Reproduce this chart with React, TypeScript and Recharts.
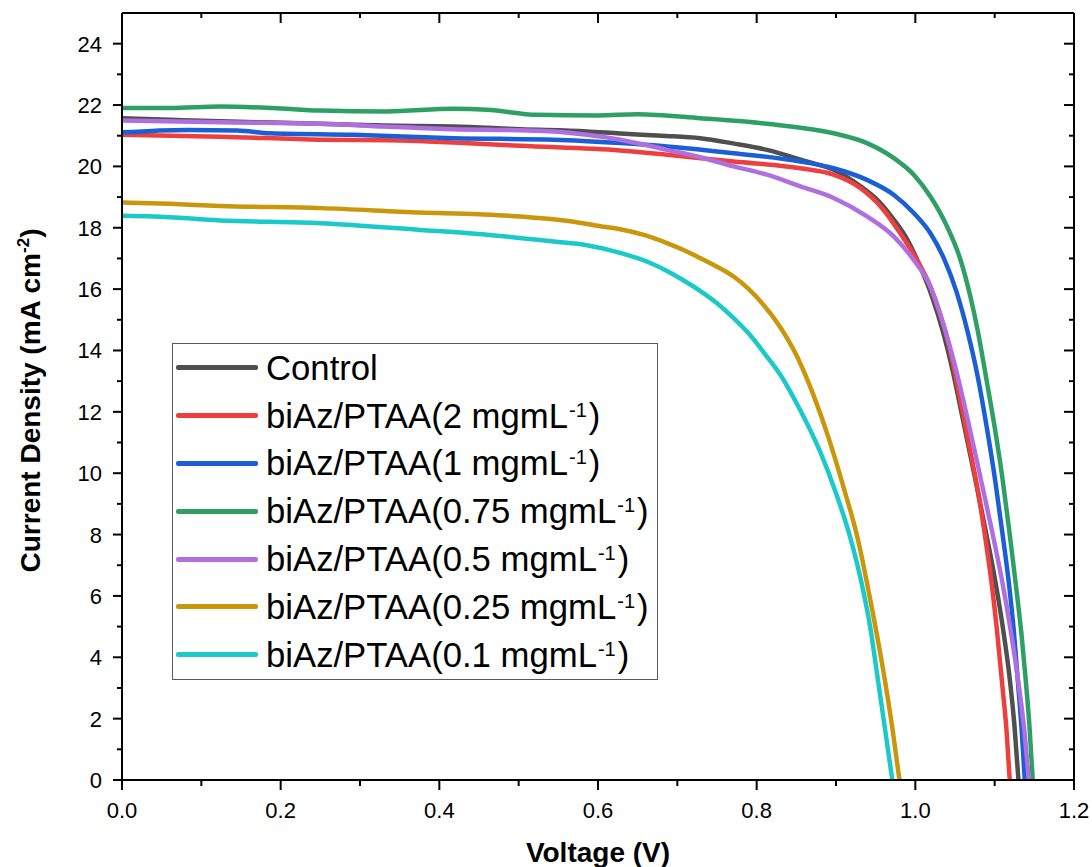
import React from 'react';
import { LineChart, Line, XAxis, YAxis, Legend, Label } from 'recharts';

const FONT = '"Liberation Sans", Arial, Helvetica, sans-serif';

// ---- tick values ----
const xMajorTicks = [0, 0.2, 0.4, 0.6, 0.8, 1.0, 1.2];
const xMinorTicks = [0.1, 0.3, 0.5, 0.7, 0.9, 1.1];
const yMajorTicks = [0, 2, 4, 6, 8, 10, 12, 14, 16, 18, 20, 22, 24];
const yMinorTicks = [1, 3, 5, 7, 9, 11, 13, 15, 17, 19, 21, 23];

// ---- series data: [voltage (V), current density (mA cm-2)] ----
const control: [number, number][] = [
  [0, 21.57], [0.06, 21.52], [0.124, 21.47], [0.25, 21.39], [0.33, 21.33], [0.418, 21.3],
  [0.502, 21.21], [0.586, 21.14], [0.628, 21.07], [0.68, 21.0], [0.729, 20.92], [0.77, 20.75],
  [0.813, 20.54], [0.863, 20.16], [0.897, 19.89], [0.931, 19.35], [0.952, 18.91], [0.973, 18.26],
  [0.99, 17.61], [1.006, 16.74], [1.021, 15.76], [1.035, 14.6], [1.047, 13.35], [1.06, 11.75],
  [1.076, 9.75], [1.09, 7.95], [1.101, 6.45], [1.111, 4.85], [1.119, 3.3], [1.125, 1.75], [1.13, 0],
];
const ptaa2: [number, number][] = [
  [0, 21.03], [0.124, 20.97], [0.25, 20.87], [0.334, 20.85], [0.418, 20.78], [0.502, 20.67],
  [0.628, 20.52], [0.687, 20.38], [0.771, 20.16], [0.855, 19.94], [0.897, 19.73], [0.931, 19.29],
  [0.96, 18.58], [0.981, 17.82], [1.002, 16.95], [1.019, 16.08], [1.031, 15.2], [1.042, 14.2],
  [1.052, 13.0], [1.062, 11.7], [1.07, 10.62], [1.078, 9.55], [1.087, 8.1], [1.096, 6.45],
  [1.103, 4.85], [1.11, 3.0], [1.115, 1.6], [1.119, 0],
];
const ptaa1: [number, number][] = [
  [0, 21.11], [0.082, 21.19], [0.145, 21.17], [0.187, 21.08], [0.292, 21.03], [0.418, 20.92],
  [0.544, 20.87], [0.628, 20.76], [0.687, 20.65], [0.771, 20.43], [0.855, 20.16], [0.897, 19.94],
  [0.939, 19.56], [0.973, 19.07], [0.998, 18.48], [1.019, 17.82], [1.036, 17.0], [1.052, 15.9],
  [1.066, 14.6], [1.079, 13.1], [1.09, 11.5], [1.101, 9.7], [1.11, 8.0], [1.118, 6.4],
  [1.124, 4.9], [1.129, 3.3], [1.134, 1.65], [1.138, 0],
];
const ptaa075: [number, number][] = [
  [0, 21.9], [0.06, 21.9], [0.124, 21.95], [0.19, 21.9], [0.25, 21.82], [0.334, 21.79],
  [0.418, 21.88], [0.46, 21.85], [0.523, 21.68], [0.6, 21.66], [0.65, 21.7], [0.729, 21.57],
  [0.813, 21.39], [0.897, 21.08], [0.939, 20.76], [0.973, 20.27], [0.998, 19.73], [1.019, 19.02],
  [1.04, 18.04], [1.057, 16.95], [1.069, 15.8], [1.079, 14.6], [1.09, 13.0], [1.1, 11.5],
  [1.11, 9.8], [1.119, 8.0], [1.127, 6.3], [1.134, 4.7], [1.139, 3.3], [1.144, 1.7], [1.148, 0],
];
const ptaa05: [number, number][] = [
  [0, 21.5], [0.124, 21.44], [0.25, 21.39], [0.33, 21.3], [0.418, 21.21], [0.5, 21.18],
  [0.544, 21.14], [0.586, 21.03], [0.628, 20.87], [0.687, 20.54], [0.729, 20.3], [0.771, 20.0],
  [0.813, 19.73], [0.855, 19.35], [0.897, 18.97], [0.939, 18.37], [0.973, 17.71], [0.998, 16.95],
  [1.019, 16.08], [1.036, 14.8], [1.05, 13.5], [1.066, 11.75], [1.083, 9.75], [1.098, 7.95],
  [1.11, 6.4], [1.12, 4.9], [1.129, 3.35], [1.137, 1.7], [1.143, 0],
];
const ptaa025: [number, number][] = [
  [0, 18.82], [0.06, 18.78], [0.124, 18.71], [0.25, 18.64], [0.376, 18.5], [0.45, 18.44],
  [0.502, 18.37], [0.565, 18.21], [0.603, 18.05], [0.628, 17.95], [0.66, 17.75], [0.687, 17.5],
  [0.71, 17.25], [0.729, 17.01], [0.75, 16.73], [0.771, 16.41], [0.79, 16.0], [0.805, 15.6],
  [0.83, 14.75], [0.85, 13.85], [0.87, 12.65], [0.89, 11.2], [0.91, 9.5], [0.928, 7.8],
  [0.943, 5.9], [0.956, 4.1], [0.962, 3.2], [0.971, 1.7], [0.98, 0],
];
const ptaa01: [number, number][] = [
  [0, 18.39], [0.04, 18.37], [0.124, 18.24], [0.25, 18.15], [0.376, 17.93], [0.46, 17.77],
  [0.544, 17.55], [0.586, 17.43], [0.628, 17.18], [0.666, 16.85], [0.69, 16.55], [0.708, 16.28],
  [0.73, 15.92], [0.75, 15.54], [0.77, 15.08], [0.79, 14.55], [0.81, 13.9], [0.83, 13.2],
  [0.854, 12.1], [0.88, 10.7], [0.9, 9.35], [0.918, 7.9], [0.932, 6.45], [0.943, 5.0],
  [0.951, 3.6], [0.961, 1.8], [0.971, 0],
];

const seriesNames = [
  'Control',
  'biAz/PTAA(2 mgmL-1)',
  'biAz/PTAA(1 mgmL-1)',
  'biAz/PTAA(0.75 mgmL-1)',
  'biAz/PTAA(0.5 mgmL-1)',
  'biAz/PTAA(0.25 mgmL-1)',
  'biAz/PTAA(0.1 mgmL-1)',
];
const seriesColors = ['#4f4f4f', '#ef3e3e', '#1a5fd6', '#2ea066', '#b06fde', '#c9960c', '#1cc9c9'];
const seriesPoints = [control, ptaa2, ptaa1, ptaa075, ptaa05, ptaa025, ptaa01];

const series = seriesNames.map((name, i) => ({
  name,
  color: seriesColors[i],
  data: seriesPoints[i].map(([v, j]) => ({ v, j })),
}));

const xTicks = [...xMajorTicks, ...xMinorTicks].sort((a, b) => a - b);
const yTicks = [...yMajorTicks, ...yMinorTicks].sort((a, b) => a - b);
const isIn = (arr: number[], v: number) => arr.some((t) => Math.abs(t - v) < 1e-9);

const MAJOR = 10;
const MINOR = 5;

function BottomTick(props: any) {
  const { x, y, payload } = props;
  const major = isIn(xMajorTicks, payload.value);
  return (
    <g>
      <line x1={x} x2={x} y1={y} y2={y + (major ? MAJOR : MINOR + 1)} stroke="#000" strokeWidth={2} />
      {major && (
        <text x={x} y={y + 38} textAnchor="middle" fontFamily={FONT} fontSize={22} fill="#000">
          {Number(payload.value).toFixed(1)}
        </text>
      )}
    </g>
  );
}

function TopTick(props: any) {
  const { x, y, payload } = props;
  const major = isIn(xMajorTicks, payload.value);
  return <line x1={x} x2={x} y1={y} y2={y + (major ? MAJOR : MINOR)} stroke="#000" strokeWidth={2} />;
}

function LeftTick(props: any) {
  const { x, y, payload } = props;
  const major = isIn(yMajorTicks, payload.value);
  return (
    <g>
      <line x1={x} x2={x - (major ? MAJOR - 1 : MINOR)} y1={y} y2={y} stroke="#000" strokeWidth={2} />
      {major && (
        <text x={x - 20} y={y + 8} textAnchor="end" fontFamily={FONT} fontSize={22} fill="#000">
          {payload.value}
        </text>
      )}
    </g>
  );
}

function RightTick(props: any) {
  const { x, y, payload } = props;
  const major = isIn(yMajorTicks, payload.value);
  return <line x1={x} x2={x - (major ? MAJOR : MINOR)} y1={y} y2={y} stroke="#000" strokeWidth={2} />;
}

function renderName(name: string) {
  if (name.endsWith('-1)')) {
    return (
      <>
        {name.slice(0, -3)}
        <span style={{ fontSize: 20, verticalAlign: 11, lineHeight: 0, marginLeft: 1, marginRight: 2 }}>-1</span>)
      </>
    );
  }
  return name;
}

function LegendBox() {
  return (
    <div
      style={{
        width: 486,
        height: 337,
        boxSizing: 'border-box',
        border: '1px solid #5a5a5a',
        background: '#fff',
        fontFamily: FONT,
        fontSize: 34.7,
        color: '#000',
      }}
    >
      {series.map((s) => (
        <div key={s.name} style={{ height: 47.8, display: 'flex', alignItems: 'center' }}>
          <div
            style={{
              width: 82,
              height: 5,
              background: s.color,
              marginLeft: 3,
              marginRight: 8,
              borderRadius: 2,
              flex: 'none',
            }}
          />
          <span style={{ lineHeight: '34px', whiteSpace: 'nowrap' }}>{renderName(s.name)}</span>
        </div>
      ))}
    </div>
  );
}

function YTitle(props: any) {
  const vb = props.viewBox ?? { x: 0, y: 13, width: 122, height: 767 };
  const cx = vb.x + 40;
  const cy = vb.y + vb.height / 2 + 4;
  return (
    <text
      x={cx}
      y={cy}
      transform={`rotate(-90, ${cx}, ${cy})`}
      textAnchor="middle"
      fontFamily={FONT}
      fontWeight="bold"
      fontSize={28}
      fill="#000"
    >
      <tspan>Current Density (mA cm</tspan>
      <tspan dy={-11} fontSize={17}>-2</tspan>
      <tspan dy={11}>)</tspan>
    </text>
  );
}

function XTitle(props: any) {
  const vb = props.viewBox ?? { x: 122, y: 780, width: 952, height: 87 };
  return (
    <text
      x={vb.x + vb.width / 2}
      y={vb.y + 82}
      textAnchor="middle"
      fontFamily={FONT}
      fontWeight="bold"
      fontSize={28}
      fill="#000"
    >
      Voltage (V)
    </text>
  );
}

export default function App() {
  return (
    <div style={{ position: 'absolute', left: 0, top: 0, width: 1092, height: 867, background: '#fff' }}>
      <LineChart width={1092} height={867} margin={{ top: 13, right: 18, bottom: 0, left: 0 }}>
        <XAxis
          dataKey="v"
          type="number"
          domain={[0, 1.2]}
          allowDataOverflow
          ticks={xTicks}
          interval={0}
          height={87}
          tickSize={0}
          tickMargin={0}
          tickLine={false}
          axisLine={{ stroke: '#000', strokeWidth: 2 }}
          tick={(p: any) => <BottomTick {...p} />}
        >
          <Label content={(p: any) => <XTitle {...p} />} />
        </XAxis>
        <XAxis
          xAxisId="top"
          orientation="top"
          mirror
          dataKey="v"
          type="number"
          domain={[0, 1.2]}
          allowDataOverflow
          ticks={xTicks}
          interval={0}
          tickSize={0}
          tickMargin={0}
          tickLine={false}
          axisLine={{ stroke: '#000', strokeWidth: 2 }}
          tick={(p: any) => <TopTick {...p} />}
        />
        <YAxis
          type="number"
          domain={[0, 25]}
          allowDataOverflow
          ticks={yTicks}
          interval={0}
          width={122}
          tickSize={0}
          tickMargin={0}
          tickLine={false}
          axisLine={{ stroke: '#000', strokeWidth: 2 }}
          tick={(p: any) => <LeftTick {...p} />}
        >
          <Label content={(p: any) => <YTitle {...p} />} />
        </YAxis>
        <YAxis
          yAxisId="right"
          orientation="right"
          mirror
          type="number"
          domain={[0, 25]}
          allowDataOverflow
          ticks={yTicks}
          interval={0}
          tickSize={0}
          tickMargin={0}
          tickLine={false}
          axisLine={{ stroke: '#000', strokeWidth: 2 }}
          tick={(p: any) => <RightTick {...p} />}
        />
        {series.map((s) => (
          <Line
            key={s.name}
            data={s.data}
            dataKey="j"
            name={s.name}
            type="monotone"
            stroke={s.color}
            strokeWidth={4.5}
            dot={false}
            activeDot={false}
            isAnimationActive={false}
          />
        ))}
        <Legend
          layout="vertical"
          align="center"
          verticalAlign="middle"
          wrapperStyle={{ left: 172, top: 343, width: 486, height: 337 }}
          content={() => <LegendBox />}
        />
      </LineChart>
    </div>
  );
}
